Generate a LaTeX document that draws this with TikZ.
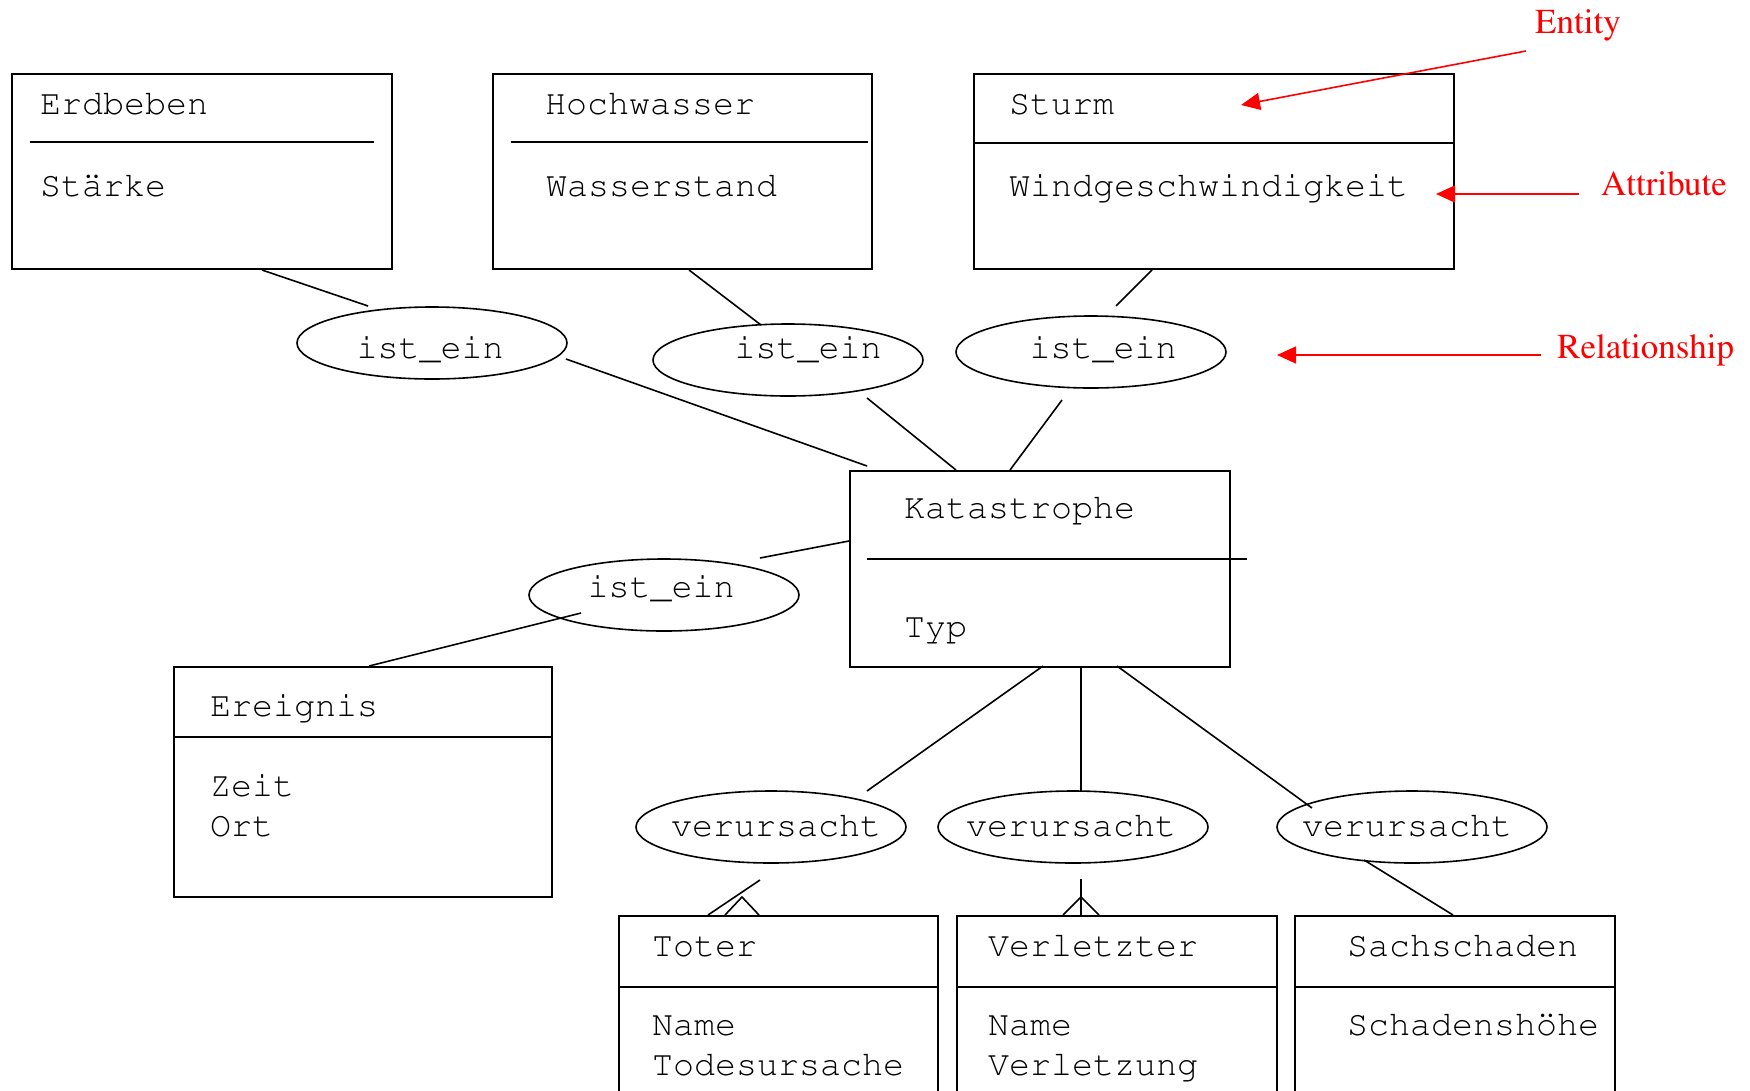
\documentclass[tikz,border=0pt]{standalone}
\usepackage[T1]{fontenc}
\usetikzlibrary{shapes.geometric,arrows.meta,calc}

% Courier for the diagram, Times for the red notes
\newcommand\monofont{\fontfamily{pcr}\fontseries{m}\fontshape{n}\fontsize{35}{40}\selectfont}
\newcommand\notefont{\fontfamily{ptm}\fontseries{m}\fontshape{n}\fontsize{35}{40}\selectfont}

\tikzset{
  ent/.style={draw, rectangle, line width=1.6pt, anchor=north west, inner sep=0pt},
  rel/.style={draw, ellipse, line width=1.6pt, minimum width=270pt, minimum height=72pt, inner sep=0pt},
  txt/.style={anchor=base west, inner sep=0pt, font=\monofont},
  reltxt/.style={anchor=base, inner sep=0pt, font=\monofont},
  conn/.style={line width=1.6pt},
  sep/.style={line width=1.6pt},
  note/.style={anchor=base west, inner sep=0pt, text=red, font=\notefont},
  pointer/.style={draw=red, line width=1.6pt, -{Triangle[length=19pt,width=17pt,fill=red]}}
}

\begin{document}
\begin{tikzpicture}[x=1pt,y=-1pt]
\useasboundingbox (0,0) rectangle (1750,1090);
\clip (0,0) rectangle (1750,1090);
\fill[white] (0,0) rectangle (1750,1090);

% ---------- entities ----------
\node[ent, minimum width=380pt, minimum height=195pt] (erd) at (11,73) {};
\node[ent, minimum width=379pt, minimum height=195pt] (hoch) at (492,73) {};
\node[ent, minimum width=480pt, minimum height=195pt] (sturm) at (973,73) {};
\node[ent, minimum width=380pt, minimum height=196pt] (kat) at (849,470) {};
\node[ent, minimum width=378pt, minimum height=230pt] (ereig) at (173,666) {};
\node[ent, minimum width=319pt, minimum height=220pt] (toter) at (618,915) {};
\node[ent, minimum width=320pt, minimum height=220pt] (verl) at (956,915) {};
\node[ent, minimum width=320pt, minimum height=220pt] (sach) at (1294,915) {};

% separators between name and attributes
\draw[sep] (30,142) -- (374,142);
\draw[sep] (511,142) -- (868,142);
\draw[sep] ($(sturm.north west)+(0,70)$) -- ($(sturm.north east)+(0,70)$);
\draw[sep] (867,559) -- (1247,559);
\draw[sep] ($(ereig.north west)+(0,71)$) -- ($(ereig.north east)+(0,71)$);
\draw[sep] ($(toter.north west)+(0,72)$) -- ($(toter.north east)+(0,72)$);
\draw[sep] ($(verl.north west)+(0,72)$) -- ($(verl.north east)+(0,72)$);
\draw[sep] ($(sach.north west)+(0,72)$) -- ($(sach.north east)+(0,72)$);

% entity names and attributes
\node[txt] (erdN) at (40,114) {Erdbeben};
\node[txt] (erdA) at (40,196) {St\"arke};
\node[txt] (hochN) at (545,114) {Hochwasser};
\node[txt] (hochA) at (546,196) {Wasserstand};
\node[txt] (sturmN) at (1009,114) {Sturm};
\node[txt] (sturmA) at (1009,196) {Windgeschwindigkeit};
\node[txt] (katN) at (904,518) {Katastrophe};
\node[txt] (katA) at (904,637) {Typ};
\node[txt] (ereigN) at (210,716) {Ereignis};
\node[txt] (ereigA) at (210,796) {Zeit};
\node[txt] (ereigB) at (210,836) {Ort};
\node[txt] (toterN) at (652,956) {Toter};
\node[txt] (toterA) at (652,1035) {Name};
\node[txt] (toterB) at (652,1075) {Todesursache};
\node[txt] (verlN) at (988,956) {Verletzter};
\node[txt] (verlA) at (988,1035) {Name};
\node[txt] (verlB) at (988,1075) {Verletzung};
\node[txt] (sachN) at (1347,956) {Sachschaden};
\node[txt] (sachA) at (1347,1035) {Schadensh\"ohe};

% ---------- relationships ----------
\node[rel] (r1) at (432,343) {};
\node[rel] (r2) at (788,360) {};
\node[rel] (r3) at (1091,352) {};
\node[rel] (r4) at (664,595) {};
\node[rel] (v1) at (771,827) {};
\node[rel] (v2) at (1073,827) {};
\node[rel] (v3) at (1412,827) {};

\node[reltxt] (r1t) at (430,358) {ist\_ein};
\node[reltxt] (r2t) at (808,358) {ist\_ein};
\node[reltxt] (r3t) at (1103,358) {ist\_ein};
\node[reltxt] (r4t) at (661,597) {ist\_ein};
\node[reltxt] (v1t) at (776,836) {verursacht};
\node[reltxt] (v2t) at (1071,836) {verursacht};
\node[reltxt] (v3t) at (1407,836) {verursacht};

% ---------- connector end points ----------
\coordinate (erdC) at (262,270);   \coordinate (r1a) at (368,306);
\coordinate (r1b) at (566,359);    \coordinate (katA1) at (867,466);
\coordinate (hochC) at (689,270);  \coordinate (r2a) at (761,325);
\coordinate (r2b) at (867,398);    \coordinate (katA2) at (956,470);
\coordinate (sturmC) at (1152,270);\coordinate (r3a) at (1116,306);
\coordinate (r3b) at (1062,400);   \coordinate (katA3) at (1010,470);
\coordinate (katL) at (849,541);   \coordinate (r4a) at (760,558);
\coordinate (r4b) at (581,613);    \coordinate (ereigC) at (369,666);
\coordinate (katB1) at (1043,666); \coordinate (v1a) at (867,791);
\coordinate (katB2) at (1081,666); \coordinate (v2a) at (1081,791);
\coordinate (katB3) at (1117,666); \coordinate (v3a) at (1312,808);
\coordinate (v3b) at (1364,860);   \coordinate (sachC) at (1453,915);
\coordinate (v1b) at (760,880);    \coordinate (toterC) at (708,915);
\coordinate (v2b) at (1081,879);   \coordinate (verlC) at (1081,915);

% ---------- connectors ----------
\draw[conn] (erdC) -- (r1a);
\draw[conn] (r1b) -- (katA1);
\draw[conn] (hochC) -- (r2a);
\draw[conn] (r2b) -- (katA2);
\draw[conn] (sturmC) -- (r3a);
\draw[conn] (r3b) -- (katA3);
\draw[conn] (katL) -- (r4a);
\draw[conn] (r4b) -- (ereigC);
\draw[conn] (katB1) -- (v1a);
\draw[conn] (katB2) -- (v2a);
\draw[conn] (katB3) -- (v3a);
\draw[conn] (v3b) -- (sachC);
\draw[conn] (v1b) -- (toterC);
\draw[conn] (v2b) -- (verlC);

% crow's feet (many side)
\draw[conn] (725,915) -- (742,897) -- (759,915);
\draw[conn] (1063,915) -- (1081,897) -- (1099,915);

% ---------- notes ----------
\node[note] (entN) at (1535,33) {Entity};
\node[note] (attN) at (1601,195) {Attribute};
\node[note] (relN) at (1557,358) {Relationship};
\coordinate (entS) at (1526,51);  \coordinate (entE) at (1241,105);
\coordinate (attS) at (1579,194); \coordinate (attE) at (1436,194);
\coordinate (relS) at (1541,355); \coordinate (relE) at (1277,355);
\draw[pointer] (entS) -- (entE);
\draw[pointer] (attS) -- (attE);
\draw[pointer] (relS) -- (relE);
\end{tikzpicture}
\end{document}
